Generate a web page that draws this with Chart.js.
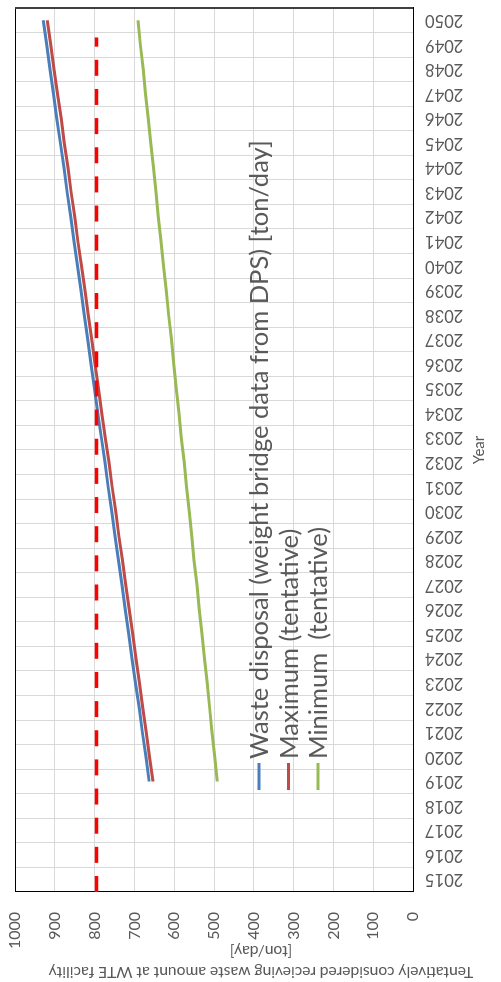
<!DOCTYPE html>
<html>
<head>
<meta charset="utf-8">
<script src="https://cdn.jsdelivr.net/npm/chart.js@4/dist/chart.umd.min.js"></script>
<style>
  html, body { margin: 0; padding: 0; background: #fff; overflow: hidden; width: 501px; height: 982px; }
  /* the chart is laid out landscape and turned a quarter-turn counter-clockwise */
  #wrap { position: absolute; left: 0; top: 0; width: 982px; height: 501px;
          transform-origin: 0 0; transform: translateY(982px) rotate(-90deg); }
  canvas { display: block; }
</style>
</head>
<body>
<div id="wrap"><canvas id="c" width="982" height="501"></canvas></div>
<script>
// Categories (years)
const years = [2015, 2016, 2017, 2018, 2019, 2020, 2021, 2022, 2023, 2024, 2025, 2026,
               2027, 2028, 2029, 2030, 2031, 2032, 2033, 2034, 2035, 2036, 2037, 2038,
               2039, 2040, 2041, 2042, 2043, 2044, 2045, 2046, 2047, 2048, 2049, 2050];

// Series names
const seriesNames = ['Waste disposal (weight bridge data from DPS) [ton/day]',
                     'Maximum (tentative)',
                     'Minimum  (tentative)'];

// Series values [ton/day]
const wasteDisposal = [null, null, null, null,
  663, 671, 680, 688, 697, 706, 714, 723, 731, 740, 749, 757, 766, 774, 783, 792,
  800, 809, 817, 826, 834, 843, 852, 860, 869, 877, 886, 895, 903, 912, 920, 929];
const maximum = [null, null, null, null,
  653, 662, 670, 679, 687, 696, 704, 713, 722, 730, 739, 747, 756, 764, 773, 782,
  790, 799, 807, 816, 824, 833, 842, 850, 859, 867, 876, 884, 893, 902, 910, 919];
const minimum = [null, null, null, null,
  492, 498, 505, 511, 517, 524, 530, 537, 543, 550, 556, 562, 569, 575, 582, 588,
  595, 601, 607, 614, 620, 627, 633, 640, 646, 652, 659, 665, 672, 678, 685, 691];

// Facility capacity reference line (start / end year, level)
const capacityYears = [2014.5, 2049.3];
const capacityLevel = [795, 795];

// Value axis
const valueMin = 0, valueMax = 1000, valueStep = 100;

// Axis titles
const valueTitle = ['Tentatively considered recieving waste amount at WTE facility', '[ton/day]'];
const yearTitle = 'Year';

const FONT = 'Lato, "Open Sans", sans-serif';
const TEXT = '#595959';
Chart.defaults.font.family = FONT;

const colors = ['#4A7EBB', '#BE4B48', '#98B954'];

// frame around the plotting area
const framePlugin = {
  id: 'frame',
  beforeDatasetsDraw(chart) {
    const { ctx, chartArea: a } = chart;
    ctx.save();
    ctx.strokeStyle = '#000';
    ctx.lineWidth = 1;
    ctx.beginPath();
    ctx.moveTo(a.left, a.top + 0.5);
    ctx.lineTo(a.right, a.top + 0.5);
    ctx.stroke();
    ctx.strokeStyle = '#404040';
    ctx.lineWidth = 2;
    ctx.beginPath();
    ctx.moveTo(a.right, a.top);
    ctx.lineTo(a.right, a.bottom);
    ctx.stroke();
    ctx.restore();
  }
};

// value-axis title (two lines) and in-plot legend
const labelsPlugin = {
  id: 'labels',
  afterDraw(chart) {
    const { ctx } = chart;
    ctx.save();
    ctx.fillStyle = TEXT;
    ctx.font = '15.6px ' + FONT;
    ctx.textAlign = 'center';
    ctx.textBaseline = 'middle';
    const lineX = [10, 31];
    valueTitle.forEach((t, i) => {
      ctx.save();
      ctx.translate(lineX[i], 261);
      ctx.rotate(-Math.PI / 2);
      ctx.fillText(t, 0, 0);
      ctx.restore();
    });

    // legend
    const rowY = [259, 288.5, 318];
    ctx.font = '25.5px ' + FONT;
    ctx.textAlign = 'left';
    chart.data.datasets.slice(0, 3).forEach((ds, i) => {
      ctx.strokeStyle = ds.borderColor;
      ctx.lineWidth = 3;
      ctx.beginPath();
      ctx.moveTo(192, rowY[i]);
      ctx.lineTo(219, rowY[i]);
      ctx.stroke();
      ctx.fillStyle = TEXT;
      ctx.fillText(ds.label, 223, rowY[i] + 1);
    });
    ctx.restore();
  }
};

new Chart(document.getElementById('c'), {
  type: 'line',
  data: {
    labels: years.map(String),
    datasets: [
      { label: seriesNames[0], data: wasteDisposal, borderColor: colors[0], borderWidth: 3,
        pointRadius: 0, order: 3, xAxisID: 'x' },
      { label: seriesNames[1], data: maximum, borderColor: colors[1], borderWidth: 3,
        pointRadius: 0, order: 2, xAxisID: 'x' },
      { label: seriesNames[2], data: minimum, borderColor: colors[2], borderWidth: 3,
        pointRadius: 0, order: 1, xAxisID: 'x' },
      { label: 'capacity', data: capacityYears.map((x, i) => ({ x: x, y: capacityLevel[i] })),
        borderColor: '#FF0000', borderWidth: 3.5, borderDash: [16, 13.15],
        pointRadius: 0, order: 0, xAxisID: 'xl' }
    ]
  },
  options: {
    responsive: false,
    animation: false,
    devicePixelRatio: 1,
    layout: { padding: { top: 15, right: 8, left: 0, bottom: 0 } },
    plugins: { legend: { display: false }, tooltip: { enabled: false } },
    scales: {
      x: {
        type: 'category',
        offset: true,
        grid: { offset: true, color: '#D9D9D9', lineWidth: 1, drawTicks: false },
        border: { color: '#000', width: 1 },
        ticks: { autoSkip: false, minRotation: 90, maxRotation: 90, padding: 12,
                 color: TEXT, font: { size: 16.5 } },
        title: { display: true, text: yearTitle, color: TEXT, font: { size: 15 },
                 padding: { top: 0, bottom: 13 } },
        afterFit(s) { s.height = 88; s.paddingLeft = 0; s.paddingRight = 0; }
      },
      xl: { type: 'linear', display: false, min: 2014.5, max: 2050.5 },
      y: {
        min: valueMin, max: valueMax,
        ticks: { stepSize: valueStep, padding: 20, color: TEXT, font: { size: 16 },
                 callback: v => String(v) },
        grid: { color: '#D9D9D9', lineWidth: 1, drawTicks: false },
        border: { color: '#000', width: 1 },
        afterFit(s) { s.width = 90; s.paddingTop = 0; s.paddingBottom = 0; }
      }
    }
  },
  plugins: [framePlugin, labelsPlugin]
});
</script>
</body>
</html>
